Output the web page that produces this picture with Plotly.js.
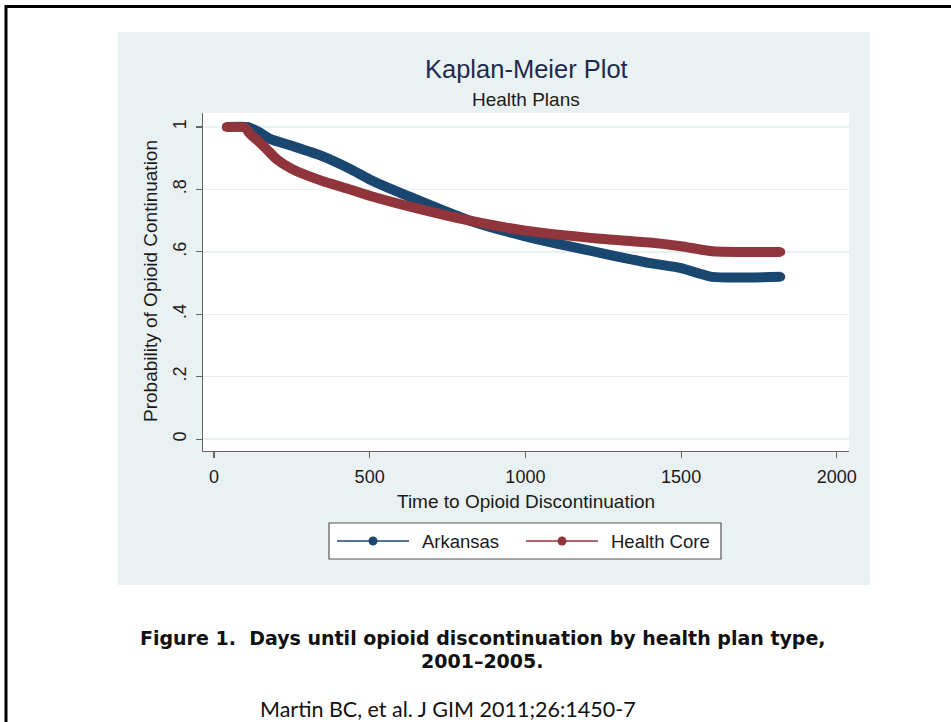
<!DOCTYPE html>
<html>
<head>
<meta charset="utf-8">
<script src="https://cdn.plot.ly/plotly-3.0.1.min.js"></script>
<style>html,body{margin:0;padding:0;background:#fff;}#chart{width:951px;height:722px;}</style>
</head>
<body>
<div id="chart"></div>
<script>
// ---- data ----
const seriesNames = ["Arkansas", "Health Core"];
const daysArkansas = [40, 110, 148, 180, 250, 340, 437, 500, 630, 822, 1000, 1240, 1400, 1500, 1600, 1820];
const probArkansas = [1.0, 1.0, 0.982, 0.962, 0.94, 0.91, 0.866, 0.832, 0.776, 0.70, 0.65, 0.597, 0.564, 0.548, 0.52, 0.52];
const daysHealthCore = [40, 100, 116, 148, 180, 200, 250, 340, 437, 500, 630, 822, 1000, 1240, 1400, 1500, 1600, 1820];
const probHealthCore = [1.0, 0.998, 0.978, 0.95, 0.918, 0.898, 0.866, 0.83, 0.80, 0.78, 0.745, 0.70, 0.668, 0.642, 0.63, 0.618, 0.602, 0.60];
const yTickVals = [0, 0.2, 0.4, 0.6, 0.8, 1];
const yTickText = ["0", ".2", ".4", ".6", ".8", "1"];
const xTickVals = [0, 500, 1000, 1500, 2000];
const xTickText = ["0", "500", "1000", "1500", "2000"];

// ---- layout helpers (pixel -> paper) ----
const W = 951, H = 722;
const L = 203, R = 849, T = 113, B = 451;
const px = v => (v - L) / (R - L);
const py = v => (B - v) / (B - T);

const navy = "#1a476f", maroon = "#90353b";
const txt = "#1a1a1a";
const font = "Liberation Sans, Arial, sans-serif";

const traces = [
  {x: daysArkansas, y: probArkansas, name: seriesNames[0], type: "scatter", mode: "lines+markers",
   line: {color: navy, width: 10, shape: "spline", smoothing: 0.6}, marker: {color: navy, size: 9},
   showlegend: false, hoverinfo: "x+y"},
  {x: daysHealthCore, y: probHealthCore, name: seriesNames[1], type: "scatter", mode: "lines+markers",
   line: {color: maroon, width: 10, shape: "spline", smoothing: 0.6}, marker: {color: maroon, size: 9},
   showlegend: false, hoverinfo: "x+y"}
];

const shapes = [
  // grey panel
  {type: "rect", xref: "paper", yref: "paper", x0: px(118), x1: px(870), y0: py(585), y1: py(32),
   fillcolor: "#eaf1f3", line: {width: 0}, layer: "below"},
  // white plot region
  {type: "rect", xref: "paper", yref: "paper", x0: 0, x1: 1, y0: 0, y1: 1,
   fillcolor: "#ffffff", line: {width: 0}, layer: "below"},
  // slide border (top and left)
  {type: "line", xref: "paper", yref: "paper", x0: px(5), x1: px(951), y0: py(6.5), y1: py(6.5),
   line: {color: "#000", width: 3}},
  {type: "line", xref: "paper", yref: "paper", x0: px(6), x1: px(6), y0: py(5), y1: py(722),
   line: {color: "#000", width: 3}},
  // legend box
  {type: "rect", xref: "paper", yref: "paper", x0: px(329), x1: px(721), y0: py(559), y1: py(523),
   fillcolor: "#ffffff", line: {color: "#555", width: 1.2}},
  // legend symbols
  {type: "line", xref: "paper", yref: "paper", x0: px(337), x1: px(409), y0: py(541), y1: py(541),
   line: {color: navy, width: 1.5}},
  {type: "circle", xref: "paper", yref: "paper", x0: px(368.5), x1: px(377.5), y0: py(545.5), y1: py(536.5),
   fillcolor: navy, line: {color: navy, width: 0}},
  {type: "line", xref: "paper", yref: "paper", x0: px(526), x1: px(598), y0: py(541), y1: py(541),
   line: {color: maroon, width: 1.5}},
  {type: "circle", xref: "paper", yref: "paper", x0: px(557.5), x1: px(566.5), y0: py(545.5), y1: py(536.5),
   fillcolor: maroon, line: {color: maroon, width: 0}}
];

const annotations = [
  {text: "Kaplan-Meier Plot", xref: "paper", yref: "paper", x: px(526), y: py(69), xanchor: "center", yanchor: "middle",
   showarrow: false, font: {family: font, size: 25.5, color: "#1c2b4f"}},
  {text: "Health Plans", xref: "paper", yref: "paper", x: px(526), y: py(100), xanchor: "center", yanchor: "middle",
   showarrow: false, font: {family: font, size: 19, color: txt}},
  {text: "Time to Opioid Discontinuation", xref: "paper", yref: "paper", x: px(526), y: py(501), xanchor: "center", yanchor: "middle",
   showarrow: false, font: {family: font, size: 19, color: txt}},
  {text: "Probability of Opioid Continuation", xref: "paper", yref: "paper", x: px(150), y: py(281), xanchor: "center", yanchor: "middle",
   textangle: -90, showarrow: false, font: {family: font, size: 19, color: txt}},
  {text: seriesNames[0], xref: "paper", yref: "paper", x: px(420), y: py(541), xanchor: "left", yanchor: "middle",
   showarrow: false, font: {family: font, size: 18.5, color: txt}},
  {text: seriesNames[1], xref: "paper", yref: "paper", x: px(609), y: py(541), xanchor: "left", yanchor: "middle",
   showarrow: false, font: {family: font, size: 18.5, color: txt}},
  {text: "<b>Figure 1.</b>  Days until opioid discontinuation by health plan type,", xref: "paper", yref: "paper",
   x: px(483), y: py(638), xanchor: "center", yanchor: "middle", showarrow: false,
   font: {family: "DejaVu Sans, sans-serif", size: 19, color: "#111", weight: 600}},
  {text: "2001–2005.", xref: "paper", yref: "paper",
   x: px(482), y: py(661), xanchor: "center", yanchor: "middle", showarrow: false,
   font: {family: "DejaVu Sans, sans-serif", size: 19, color: "#111", weight: 600}},
  {text: "Martin BC, et al. J GIM 2011;26:1450-7", xref: "paper", yref: "paper",
   x: px(258), y: py(709), xanchor: "left", yanchor: "middle", showarrow: false,
   font: {family: "Lato, sans-serif", size: 21.5, color: "#111"}}
];

const layout = {
  width: W, height: H,
  margin: {l: L, r: W - R, t: T, b: H - B, pad: 0},
  paper_bgcolor: "#ffffff",
  plot_bgcolor: "rgba(0,0,0,0)",
  showlegend: false,
  xaxis: {
    range: [-35, 2039], tickmode: "array", tickvals: xTickVals, ticktext: xTickText,
    showgrid: false, zeroline: false, showline: true, linecolor: "#666", linewidth: 1.2,
    ticks: "outside", ticklen: 6, tickcolor: "#666", tickwidth: 1.2, ticklabelstandoff: 3,
    tickfont: {family: font, size: 18, color: txt}
  },
  yaxis: {
    range: [-0.038, 1.045], tickmode: "array", tickvals: yTickVals, ticktext: yTickText,
    showgrid: true, gridcolor: "#e8f0f2", gridwidth: 1.5, zeroline: false,
    showline: true, linecolor: "#666", linewidth: 1.2,
    ticks: "outside", ticklen: 6, tickcolor: "#666", tickwidth: 1.2, tickangle: -90, ticklabelstandoff: 3,
    tickfont: {family: font, size: 18, color: txt}
  },
  shapes: shapes,
  annotations: annotations
};

Plotly.newPlot("chart", traces, layout, {displayModeBar: false, staticPlot: true});
</script>
</body>
</html>
